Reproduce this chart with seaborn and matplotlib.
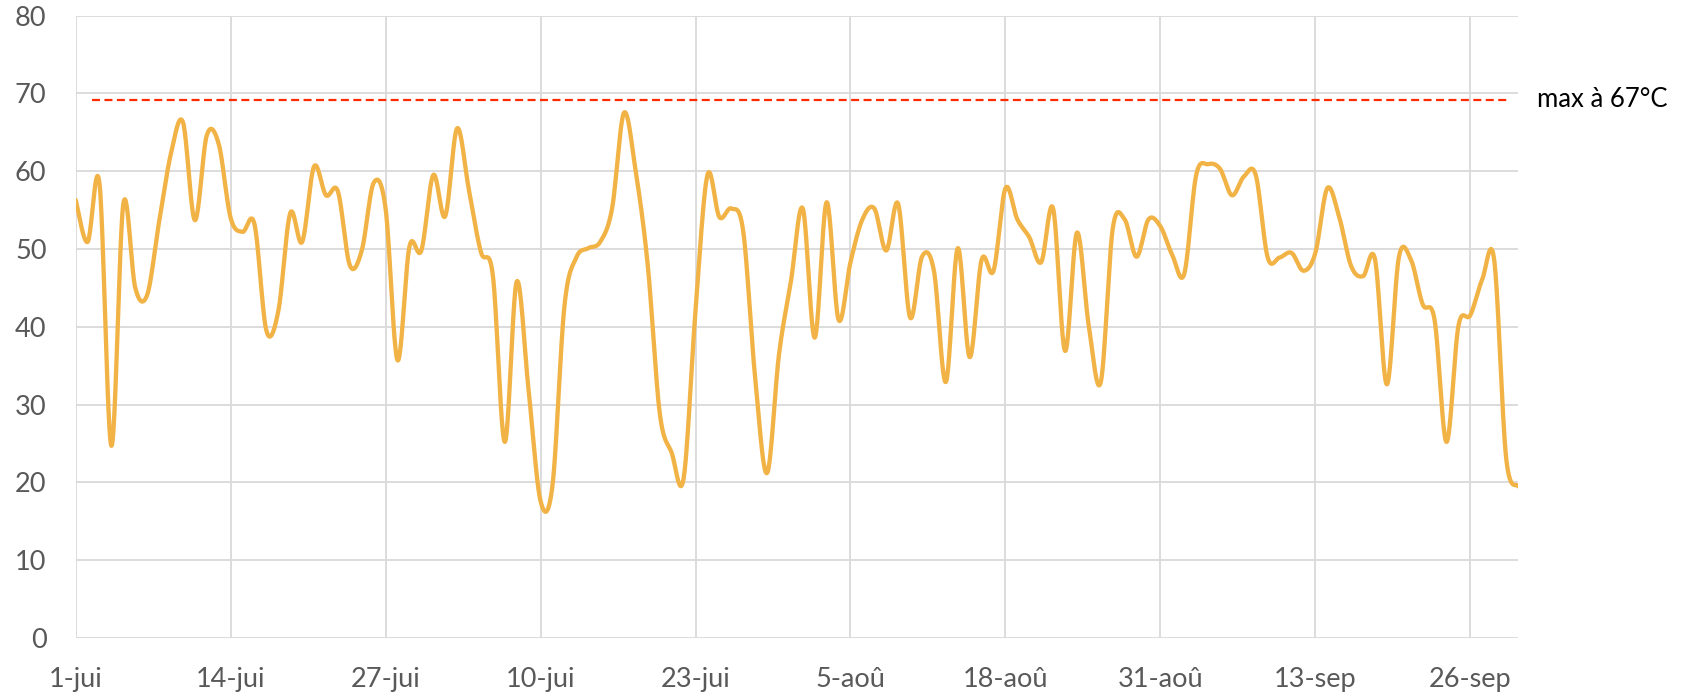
import numpy as np
import pandas as pd
import matplotlib
matplotlib.use("Agg")
import matplotlib.pyplot as plt
import seaborn as sns

# ---- data -------------------------------------------------------------
temperatures = [
    56.3, 50.9, 58.4, 24.7, 55.8, 45.0, 44.1, 53.5, 62.3, 66.3,
    53.7, 64.6, 63.5, 54.0, 52.2, 53.2, 39.5, 42.0, 54.6, 50.9,
    60.6, 56.9, 57.4, 47.9, 49.8, 58.5, 55.2, 35.7, 50.3, 49.8,
    59.5, 54.2, 65.5, 57.5, 49.6, 46.6, 25.2, 45.8, 31.8, 17.6,
    19.6, 42.6, 48.9, 50.1, 50.9, 55.2, 67.5, 59.8, 47.8, 28.9,
    23.8, 20.5, 42.1, 59.5, 54.1, 55.2, 52.3, 33.5, 21.2, 36.4,
    45.8, 55.2, 38.6, 56.0, 40.9, 48.3, 53.8, 55.2, 49.8, 55.8,
    41.2, 49.0, 47.2, 32.9, 50.1, 36.1, 48.6, 47.2, 57.8, 53.8,
    51.5, 48.3, 55.2, 36.9, 52.1, 40.0, 32.9, 52.6, 53.8, 49.0,
    53.8, 52.9, 49.2, 46.8, 59.5, 60.9, 60.3, 56.9, 59.3, 59.5,
    48.9, 48.9, 49.5, 47.2, 49.5, 57.8, 54.1, 47.8, 46.5, 48.7,
    32.6, 48.9, 48.7, 42.9, 40.9, 25.2, 40.1, 41.5, 46.1, 48.6,
    23.2, 19.5,
]
days = list(range(len(temperatures)))
tick_days = [0, 13, 26, 39, 52, 65, 78, 91, 104, 117]
tick_labels = ["1-jui", "14-jui", "27-jui", "10-jui", "23-jui",
               "5-aoû", "18-aoû", "31-aoû", "13-sep", "26-sep"]
y_ticks = [0, 10, 20, 30, 40, 50, 60, 70, 80]
max_line_value = 69.2
max_line_days = [1.35, 120.3]
max_label = "max à 67°C"

# ---- Excel-like smoothed curve (Bezier / Catmull-Rom) -----------------
def smooth(xv, yv, samples=24):
    xv = np.asarray(xv, float)
    yv = np.asarray(yv, float)
    n = len(xv)
    out_x, out_y = [], []
    t = np.linspace(0, 1, samples, endpoint=False)
    for i in range(n - 1):
        i0 = max(i - 1, 0)
        i3 = min(i + 2, n - 1)
        p0x, p1x, p2x, p3x = xv[i0], xv[i], xv[i + 1], xv[i3]
        p0y, p1y, p2y, p3y = yv[i0], yv[i], yv[i + 1], yv[i3]
        c1x, c1y = p1x + (p2x - p0x) / 6, p1y + (p2y - p0y) / 6
        c2x, c2y = p2x - (p3x - p1x) / 6, p2y - (p3y - p1y) / 6
        b0 = (1 - t) ** 3
        b1 = 3 * (1 - t) ** 2 * t
        b2 = 3 * (1 - t) * t ** 2
        b3 = t ** 3
        out_x.extend(b0 * p1x + b1 * c1x + b2 * c2x + b3 * p2x)
        out_y.extend(b0 * p1y + b1 * c1y + b2 * c2y + b3 * p2y)
    out_x.append(xv[-1])
    out_y.append(yv[-1])
    return np.array(out_x), np.array(out_y)

sx, sy = smooth(days, temperatures)
df = pd.DataFrame({"jour": sx, "temp": sy})

# ---- figure -----------------------------------------------------------
sns.set_theme(style="white")
plt.rcParams["font.family"] = ["Lato", "DejaVu Sans"]

fig = plt.figure(figsize=(16.85, 6.96), dpi=100)
ax = fig.add_axes([0.0449, 0.0833, 0.9561 - 0.0449 - 0.0552, 0.9777 - 0.0833])

sns.lineplot(data=df, x="jour", y="temp", sort=False, ax=ax,
             color="#F2B346", linewidth=3.1, zorder=3)

ax.hlines(max_line_value, max_line_days[0], max_line_days[1],
          colors="#FF2A00", linewidth=1.6, linestyles=(0, (3.6, 2.0)), zorder=4)
ax.annotate(max_label, xy=(days[-1], max_line_value), xytext=(13.5, 0),
            textcoords="offset points", va="center", ha="left",
            fontsize=18.5, color="#000000", annotation_clip=False)

ax.set_xlim(days[0], days[-1])
ax.set_ylim(y_ticks[0], y_ticks[-1])
ax.set_xticks(tick_days)
ax.set_xticklabels(tick_labels)
ax.set_yticks(y_ticks)
ax.set_xlabel("")
ax.set_ylabel("")

ax.grid(True, axis="both", color="#D9D9D9", linewidth=1.3, zorder=0)
ax.set_axisbelow(True)
for s in ax.spines.values():
    s.set_visible(False)
ax.tick_params(axis="both", length=0, labelsize=19.5, labelcolor="#595959")
ax.tick_params(axis="x", pad=21)
ax.tick_params(axis="y", pad=21)

fig.savefig("out.png", dpi=100)
